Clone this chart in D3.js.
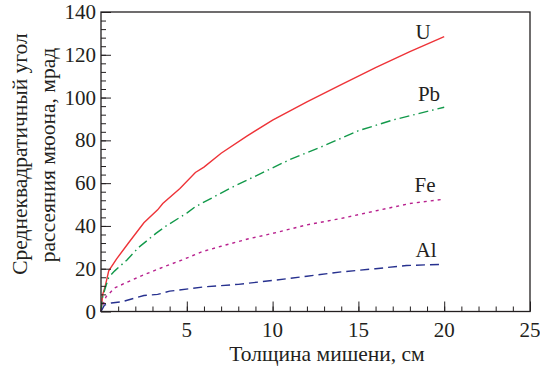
<!DOCTYPE html>
<html>
<head>
  <meta charset="utf-8">
  <script src="https://d3js.org/d3.v7.min.js"></script>
  <style>
    body { margin: 0; background: #fff; }
    svg text { font-family: "Liberation Serif", "Times New Roman", serif; fill: #231f20; }
  </style>
</head>
<body>
  <svg id="chart" width="540" height="366"></svg>

  <script>
    // Data (thickness in cm, angle in mrad)
    var uData = [[0,0],[0.1,8],[0.25,12],[0.45,19],[0.9,24.5],[1.6,32],[2.5,41.5],[3.3,47.5],[3.6,50.5],
      [4.6,57.5],[5.5,65],[6,67.5],[7,74],[8.5,82],[10,89.5],[12,98],[14,106],[16,114],[18,121.5],[20,128.5]];
    var pbData = [[0,0],[0.1,7],[0.25,11],[0.45,16],[0.8,19],[1.5,24],[2.2,30],[3.2,36.5],[3.8,40],
      [5,46],[5.5,49],[7.5,57.5],[9.7,66],[11,71],[13,77.5],[15,84.5],[17,89.5],[20,95.5]];
    var feData = [[0,0],[0.1,3],[0.3,7],[0.8,11],[1.6,14],[2.6,17.5],[3.7,21],[4.7,24],[5.9,28],[7,30.5],
      [8.6,34],[10,36.5],[12,40.5],[14,43.5],[16,47],[18,50.5],[20,52.5]];
    var alData = [[0,0],[0.2,3],[0.6,4],[1.2,4.5],[2.5,7.5],[3.3,8],[4,9.5],[6,11.5],[8,12.7],[10,14.5],
      [12,16.5],[14,18.5],[16,20],[17.8,21.5],[19.7,22]];

    var seriesNames = ["U", "Pb", "Fe", "Al"];
    var xTicks = [5, 10, 15, 20, 25];
    var yTicks = [0, 20, 40, 60, 80, 100, 120, 140];

    var series = [
      { name: seriesNames[0], data: uData,  color: "#ee3338", dash: null,         lx: 423, ly: 39 },
      { name: seriesNames[1], data: pbData, color: "#12994a", dash: "10,4,1.5,4", lx: 429, ly: 101 },
      { name: seriesNames[2], data: feData, color: "#b8218e", dash: "3,4",        lx: 425, ly: 192 },
      { name: seriesNames[3], data: alData, color: "#27318f", dash: "9,5",        lx: 426, ly: 257 }
    ];

    var plotL = 101, plotR = 530, plotT = 12, plotB = 311.5;
    var svg = d3.select("#chart");

    var x = d3.scaleLinear().domain([0, 25]).range([plotL, plotR]);
    var y = d3.scaleLinear().domain([0, 140]).range([plotB, plotT]);

    // curves
    var line = d3.line()
      .x(function(d) { return x(d[0]); })
      .y(function(d) { return y(d[1]); });

    series.forEach(function(s) {
      svg.append("path")
        .datum(s.data)
        .attr("d", line)
        .attr("fill", "none")
        .attr("stroke", s.color)
        .attr("stroke-width", 1.4)
        .attr("stroke-dasharray", s.dash);
      svg.append("text")
        .attr("x", s.lx)
        .attr("y", s.ly)
        .attr("text-anchor", "middle")
        .attr("font-size", "21px")
        .text(s.name);
    });

    // ticks inward, minor and major
    function noDomain(g) { g.select(".domain").remove(); }

    svg.append("g").attr("transform", "translate(0," + plotB + ")")
      .call(d3.axisTop(x).tickValues(d3.range(1, 25)).tickSize(5).tickFormat(""))
      .call(noDomain);
    svg.append("g").attr("transform", "translate(0," + plotB + ")")
      .call(d3.axisTop(x).tickValues(xTicks).tickSize(10).tickFormat(""))
      .call(noDomain);

    svg.append("g").attr("transform", "translate(" + plotL + ",0)")
      .call(d3.axisRight(y).tickValues(d3.range(4, 140, 4)).tickSize(5).tickFormat(""))
      .call(noDomain);
    svg.append("g").attr("transform", "translate(" + plotL + ",0)")
      .call(d3.axisRight(y).tickValues(yTicks).tickSize(10).tickFormat(""))
      .call(noDomain);

    svg.selectAll(".tick line").attr("stroke", "#231f20").attr("stroke-width", 1);

    // tick labels
    svg.selectAll("text.xl")
      .data(xTicks)
      .enter().append("text")
      .attr("class", "xl")
      .attr("x", function(d) { return x(d); })
      .attr("y", 337)
      .attr("text-anchor", "middle")
      .attr("font-size", "21px")
      .text(function(d) { return d; });

    svg.selectAll("text.yl")
      .data(yTicks)
      .enter().append("text")
      .attr("class", "yl")
      .attr("x", 96)
      .attr("y", function(d) { return y(d) + 7; })
      .attr("text-anchor", "end")
      .attr("font-size", "21px")
      .text(function(d) { return d; });

    // frame
    svg.append("rect")
      .attr("x", plotL).attr("y", plotT)
      .attr("width", plotR - plotL).attr("height", plotB - plotT)
      .attr("fill", "none")
      .attr("stroke", "#231f20")
      .attr("stroke-width", 1.3);

    // axis titles
    svg.append("text")
      .attr("x", 327)
      .attr("y", 361)
      .attr("text-anchor", "middle")
      .attr("font-size", "21.5px")
      .text("Толщина мишени, см");

    svg.append("text")
      .attr("transform", "translate(27,154) rotate(-90)")
      .attr("text-anchor", "middle")
      .attr("font-size", "21.5px")
      .text("Среднеквадратичный угол");
    svg.append("text")
      .attr("transform", "translate(55,155) rotate(-90)")
      .attr("text-anchor", "middle")
      .attr("font-size", "21.5px")
      .text("рассеяния мюона, мрад");
  </script>
</body>
</html>
